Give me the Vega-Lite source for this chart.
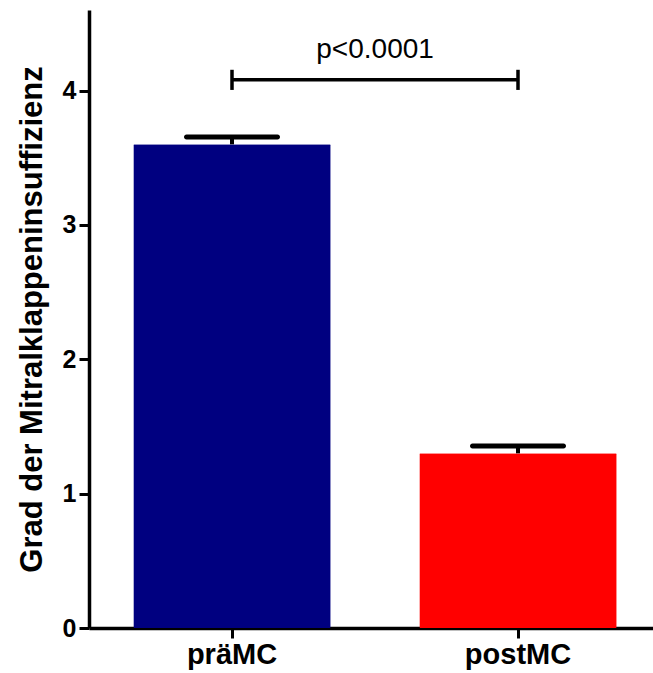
{
  "$schema": "https://vega.github.io/schema/vega-lite/v6.json",
  "autosize": "none",
  "width": 572,
  "height": 618,
  "padding": {"left": 89, "top": 10, "right": 0, "bottom": 45},
  "config": {
    "view": {"stroke": null},
    "font": "Liberation Sans"
  },
  "datasets": {
    "bars": [
      {"group": "präMC", "mean": 3.6, "upper": 3.655},
      {"group": "postMC", "mean": 1.3, "upper": 1.355}
    ],
    "bracket": [
      {"g1": "präMC", "g2": "postMC", "y": 4.08, "ylo": 4.005, "yhi": 4.155, "label": "p<0.0001", "ytext": 4.3}
    ]
  },
  "encoding": {
    "x": {
      "field": "group",
      "type": "nominal",
      "sort": null,
      "scale": {"domain": ["präMC", "postMC"], "paddingInner": 0.31, "paddingOuter": 0.155},
      "axis": {
        "title": null,
        "labelAngle": 0,
        "labelFont": "Liberation Sans",
        "labelFontWeight": "bold",
        "labelFontSize": 29,
        "labelColor": "black",
        "labelPadding": 2,
        "domainColor": "black",
        "domainWidth": 3.5,
        "tickColor": "black",
        "tickWidth": 3,
        "tickSize": 10
      }
    }
  },
  "layer": [
    {
      "data": {"name": "bars"},
      "mark": {"type": "bar", "cornerRadius": 1},
      "encoding": {
        "y": {
          "field": "mean",
          "type": "quantitative",
          "scale": {"domain": [0, 4.6], "nice": false},
          "axis": {
            "title": "Grad der Mitralklappeninsuffizienz",
            "titleFont": "Liberation Sans",
            "titleFontWeight": "bold",
            "titleFontSize": 31,
            "titleColor": "black",
            "titlePadding": 14,
            "values": [0, 1, 2, 3, 4],
            "format": "d",
            "grid": false,
            "labelFont": "Liberation Sans",
            "labelFontWeight": "bold",
            "labelFontSize": 25,
            "labelColor": "black",
            "labelPadding": 3,
            "domainColor": "black",
            "domainWidth": 3.5,
            "tickColor": "black",
            "tickWidth": 3,
            "tickSize": 10
          }
        },
        "color": {
          "field": "group",
          "type": "nominal",
          "scale": {"domain": ["präMC", "postMC"], "range": ["#000080", "#ff0000"]},
          "legend": null
        }
      }
    },
    {
      "data": {"name": "bars"},
      "mark": {"type": "rule", "color": "black", "strokeWidth": 4},
      "encoding": {
        "y": {"field": "mean", "type": "quantitative"},
        "y2": {"field": "upper"}
      }
    },
    {
      "data": {"name": "bars"},
      "mark": {"type": "tick", "color": "black", "thickness": 5, "size": 96, "cornerRadius": 2.5, "opacity": 1},
      "encoding": {
        "y": {"field": "upper", "type": "quantitative"}
      }
    },
    {
      "data": {"name": "bracket"},
      "mark": {"type": "rule", "color": "black", "strokeWidth": 3.5},
      "encoding": {
        "x": {"field": "g1", "type": "nominal", "sort": null, "scale": {"domain": ["präMC", "postMC"]}},
        "x2": {"field": "g2"},
        "y": {"field": "y", "type": "quantitative"}
      }
    },
    {
      "data": {"name": "bracket"},
      "mark": {"type": "rule", "color": "black", "strokeWidth": 3.5},
      "encoding": {
        "x": {"field": "g1", "type": "nominal", "sort": null, "scale": {"domain": ["präMC", "postMC"]}},
        "y": {"field": "ylo", "type": "quantitative"},
        "y2": {"field": "yhi"}
      }
    },
    {
      "data": {"name": "bracket"},
      "mark": {"type": "rule", "color": "black", "strokeWidth": 3.5},
      "encoding": {
        "x": {"field": "g2", "type": "nominal", "sort": null, "scale": {"domain": ["präMC", "postMC"]}},
        "y": {"field": "ylo", "type": "quantitative"},
        "y2": {"field": "yhi"}
      }
    },
    {
      "data": {"name": "bracket"},
      "mark": {"type": "text", "font": "Liberation Sans", "fontSize": 28, "color": "black", "baseline": "middle"},
      "encoding": {
        "x": {"field": "g1", "type": "nominal", "bandPosition": 1.225, "sort": null, "scale": {"domain": ["präMC", "postMC"]}},
        "y": {"field": "ytext", "type": "quantitative"},
        "text": {"field": "label"}
      }
    }
  ]
}
